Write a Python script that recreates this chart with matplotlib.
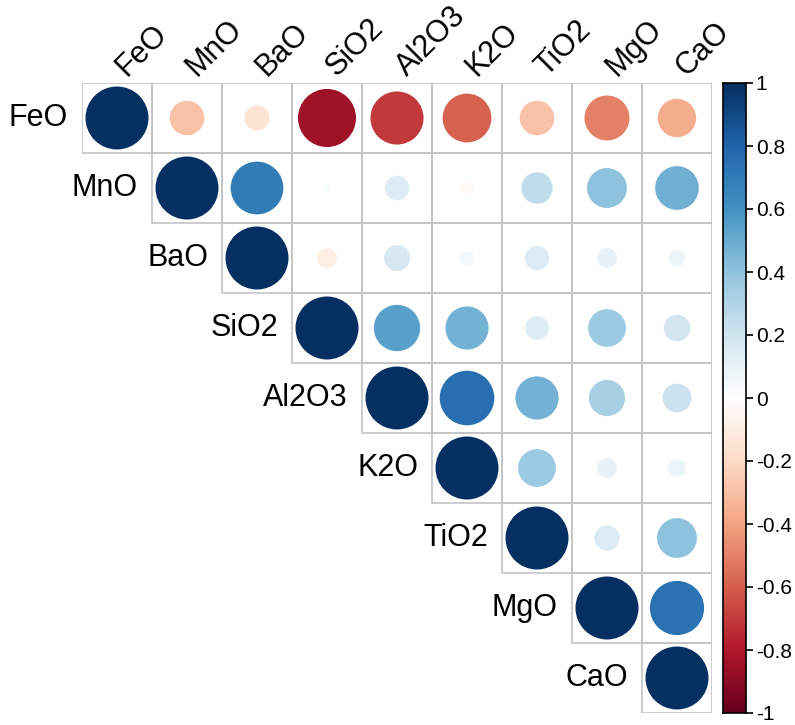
import numpy as np
import matplotlib
matplotlib.use("Agg")
import matplotlib.pyplot as plt
from matplotlib.colors import LinearSegmentedColormap, Normalize
from matplotlib.patches import Circle, Rectangle

plt.rcParams["font.family"] = ["Liberation Sans", "DejaVu Sans"]

labels = ["FeO", "MnO", "BaO", "SiO2", "Al2O3", "K2O", "TiO2", "MgO", "CaO"]

# upper triangle, row by row (diagonal first)
r_feo   = [1, -0.30, -0.16, -0.85, -0.71, -0.60, -0.30, -0.51, -0.37]
r_mno   = [1, 0.70, 0.02, 0.15, -0.04, 0.25, 0.40, 0.48]
r_bao   = [1, -0.10, 0.17, 0.05, 0.15, 0.10, 0.07]
r_sio2  = [1, 0.54, 0.47, 0.14, 0.36, 0.18]
r_al2o3 = [1, 0.75, 0.47, 0.33, 0.21]
r_k2o   = [1, 0.36, 0.10, 0.08]
r_tio2  = [1, 0.16, 0.40]
r_mgo   = [1, 0.74]
r_cao   = [1]
rows = [r_feo, r_mno, r_bao, r_sio2, r_al2o3, r_k2o, r_tio2, r_mgo, r_cao]

cbar_ticks = [1, 0.8, 0.6, 0.4, 0.2, 0, -0.2, -0.4, -0.6, -0.8, -1]

# corrplot RdBu ramp
rdbu = ["#67001F", "#B2182B", "#D6604D", "#F4A582", "#FDDBC7", "#FFFFFF",
        "#D1E5F0", "#92C5DE", "#4393C3", "#2166AC", "#053061"]
cmap = LinearSegmentedColormap.from_list("corrRdBu", rdbu, N=200)
norm = Normalize(-1, 1)

W, H = 795, 725
fig = plt.figure(figsize=(W / 100, H / 100), dpi=100)
gx0, gx1, gy0, gy1 = 82, 712, 83, 713   # grid in pixels (top-left origin)
ax = fig.add_axes([gx0 / W, 1 - gy1 / H, (gx1 - gx0) / W, (gy1 - gy0) / H])
n = len(labels)
ax.set_xlim(0, n); ax.set_ylim(n, 0)
ax.axis("off")

for i, vals in enumerate(rows):
    for k, v in enumerate(vals):
        j = i + k
        ax.add_patch(Rectangle((j, i), 1, 1, fill=False, ec="#C4C4C4", lw=1.2, zorder=1))
        ax.add_patch(Circle((j + 0.5, i + 0.5), 0.45 * np.sqrt(abs(v)),
                            fc=cmap(norm(v)), ec="none", zorder=2))
    # row label
    ax.text(i - 0.2, i + 0.5, labels[i], ha="right", va="center", fontsize=22, clip_on=False)

for j, lab in enumerate(labels):
    ax.text(j + 0.64, -0.08, lab, ha="left", va="baseline", rotation=45,
            rotation_mode="anchor", fontsize=22, clip_on=False)

# colour legend
cax = fig.add_axes([723 / W, 1 - gy1 / H, 23 / W, (gy1 - gy0) / H])
grad = np.linspace(-1, 1, 400).reshape(-1, 1)
cax.imshow(grad, cmap=cmap, norm=norm, aspect="auto", origin="lower", extent=[0, 1, -1, 1])
cax.set_xticks([])
cax.yaxis.tick_right()
cax.set_yticks(cbar_ticks)
cax.set_yticklabels([f"{t:g}" for t in cbar_ticks], fontsize=15)
cax.tick_params(axis="y", length=5, width=1.2, pad=2)
for s in cax.spines.values():
    s.set_linewidth(1.2)

fig.savefig("out.png", dpi=100, facecolor="white")
